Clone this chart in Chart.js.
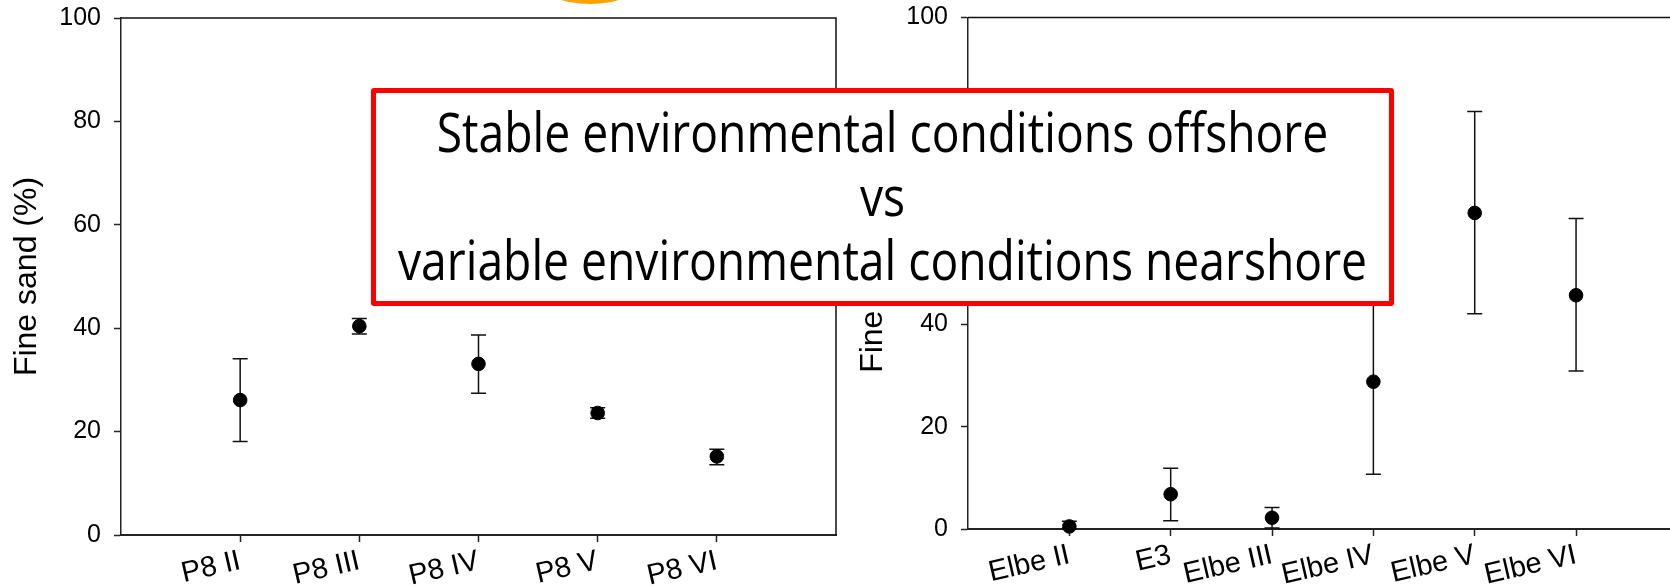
<!DOCTYPE html>
<html lang="en">
<head>
<meta charset="UTF-8">
<title>Fine sand offshore vs nearshore</title>
<style>
  body {
    margin: 0;
    width: 1670px;
    height: 587px;
    overflow: hidden;
    position: relative;
    background: #fff;
  }
  #leftChart { position: absolute; left: 0; top: 0; }
  #rightChart { position: absolute; left: 850px; top: 0; }
  .blob {
    position: absolute;
    left: 540px; top: -40px;
    width: 100px; height: 44px;
    border-radius: 50%;
    background: #ffa200;
  }
  .note {
    position: absolute;
    left: 371px; top: 88px;
    width: 1023px; height: 218px;
    box-sizing: border-box;
    border: 5px solid #ff0000;
    border-radius: 3px;
    background: #fff;
    font-family: "Open Sans", sans-serif;
    font-size: 54px;
    line-height: 64px;
    color: #000;
  }
  .note .txt { padding-top: 6px; transform-origin: center top; }
  .note .txt div { display: flex; justify-content: center; white-space: nowrap; }
</style>
</head>
<body>
  <canvas id="leftChart" width="860" height="587"></canvas>
  <canvas id="rightChart" width="850" height="587"></canvas>
  <div class="blob"></div>
  <div class="note">
    <div class="txt" id="noteText">
      <div><span>Stable environmental conditions offshore</span></div>
      <div><span>vs</span></div>
      <div><span id="longLine">variable environmental conditions nearshore</span></div>
    </div>
  </div>

<script src="https://cdn.jsdelivr.net/npm/chart.js"></script>
<script>
  // offshore stations (P8)
  const leftLabels = ['P8 II', 'P8 III', 'P8 IV', 'P8 V', 'P8 VI'];
  const leftMeans = [26.1, 40.4, 33.1, 23.6, 15.2];
  const leftLow = [18.1, 38.9, 27.4, 22.6, 13.6];
  const leftHigh = [34.1, 41.9, 38.7, 24.6, 16.6];

  // nearshore stations (Elbe)
  const rightLabels = ['Elbe II', 'E3', 'Elbe III', 'Elbe IV', 'Elbe V', 'Elbe VI'];
  const rightMeans = [0.5, 6.8, 2.2, 28.8, 61.8, 45.7];
  const rightLow = [0.0, 1.6, 0.2, 10.7, 42.1, 30.9];
  const rightHigh = [1.5, 11.9, 4.2, 46.9, 81.6, 60.7];

  const yTicks = [0, 20, 40, 60, 80, 100];
  const yTitle = 'Fine sand (%)';

  Chart.defaults.font.family = '"Liberation Sans", Arial, sans-serif';
  Chart.defaults.color = '#000';

  // whiskers drawn under the points
  const errorBars = {
    id: 'errorBars',
    beforeDatasetsDraw(chart, args, opts) {
      const { ctx, scales: { x, y } } = chart;
      ctx.save();
      ctx.strokeStyle = '#111';
      ctx.lineWidth = 1.5;
      opts.low.forEach((lo, i) => {
        const px = x.getPixelForValue(i + 1);
        const top = y.getPixelForValue(opts.high[i]);
        const bot = y.getPixelForValue(lo);
        ctx.beginPath();
        ctx.moveTo(px, top); ctx.lineTo(px, bot);
        ctx.moveTo(px - 7.5, top); ctx.lineTo(px + 7.5, top);
        ctx.moveTo(px - 7.5, bot); ctx.lineTo(px + 7.5, bot);
        ctx.stroke();
      });
      ctx.restore();
    }
  };

  // top and right edges of the plot box
  const frame = {
    id: 'frame',
    afterDraw(chart) {
      const { ctx, chartArea: a } = chart;
      ctx.save();
      ctx.strokeStyle = '#111';
      ctx.lineWidth = 1.5;
      ctx.beginPath();
      ctx.moveTo(a.left, a.top);
      ctx.lineTo(a.right, a.top);
      ctx.lineTo(a.right, a.bottom);
      ctx.stroke();
      ctx.restore();
    }
  };

  function makeChart(id, labels, means, low, high, lay) {
    new Chart(document.getElementById(id), {
      type: 'scatter',
      data: {
        datasets: [{
          data: means.map((v, i) => ({ x: i + 1, y: v })),
          backgroundColor: '#000',
          borderColor: '#000',
          pointRadius: 6.8,
          pointHoverRadius: 6.8,
          clip: false
        }]
      },
      plugins: [errorBars, frame],
      options: {
        responsive: false,
        animation: false,
        devicePixelRatio: 1,
        layout: { padding: { top: lay.top, right: lay.right, left: 0, bottom: 0 } },
        plugins: {
          legend: { display: false },
          tooltip: { enabled: false },
          errorBars: { low: low, high: high }
        },
        scales: {
          x: {
            type: 'linear',
            min: 0,
            max: labels.length + 1,
            afterBuildTicks: s => { s.ticks = labels.map((_, i) => ({ value: i + 1 })); },
            afterFit: s => { s.height = lay.xHeight; },
            border: { color: '#222', width: 2 },
            grid: { drawOnChartArea: false, tickLength: 7, tickColor: '#222', tickWidth: 1.5 },
            ticks: {
              autoSkip: false,
              minRotation: 13,
              maxRotation: 13,
              padding: 2,
              font: { size: 29 },
              callback: v => labels[v - 1]
            }
          },
          y: {
            min: 0,
            max: 100,
            afterBuildTicks: s => { s.ticks = yTicks.map(v => ({ value: v })); },
            afterFit: s => {
              s.width = lay.yWidth;
              s.paddingTop = 0;
              s.paddingBottom = 0;
            },
            border: { color: '#222', width: 1.5 },
            grid: { drawOnChartArea: false, tickLength: 7, tickColor: '#222', tickWidth: 1.5 },
            ticks: { padding: 13, font: { size: 25 } },
            title: {
              display: true,
              text: yTitle,
              font: { size: 32, lineHeight: 1.2 },
              padding: { top: lay.titlePad, bottom: 0 }
            }
          }
        }
      }
    });
  }

  makeChart('leftChart', leftLabels, leftMeans, leftLow, leftHigh,
    { top: 18, right: 24, xHeight: 52, yWidth: 121, titlePad: 8 });
  makeChart('rightChart', rightLabels, rightMeans, rightLow, rightHigh,
    { top: 17.5, right: 22.6, xHeight: 58, yWidth: 118, titlePad: 3.5 });

  // squeeze the note text to the width of the original lettering
  const longW = document.getElementById('longLine').getBoundingClientRect().width;
  document.getElementById('noteText').style.transform = 'scaleX(' + (969 / longW) + ')';
</script>
</body>
</html>
